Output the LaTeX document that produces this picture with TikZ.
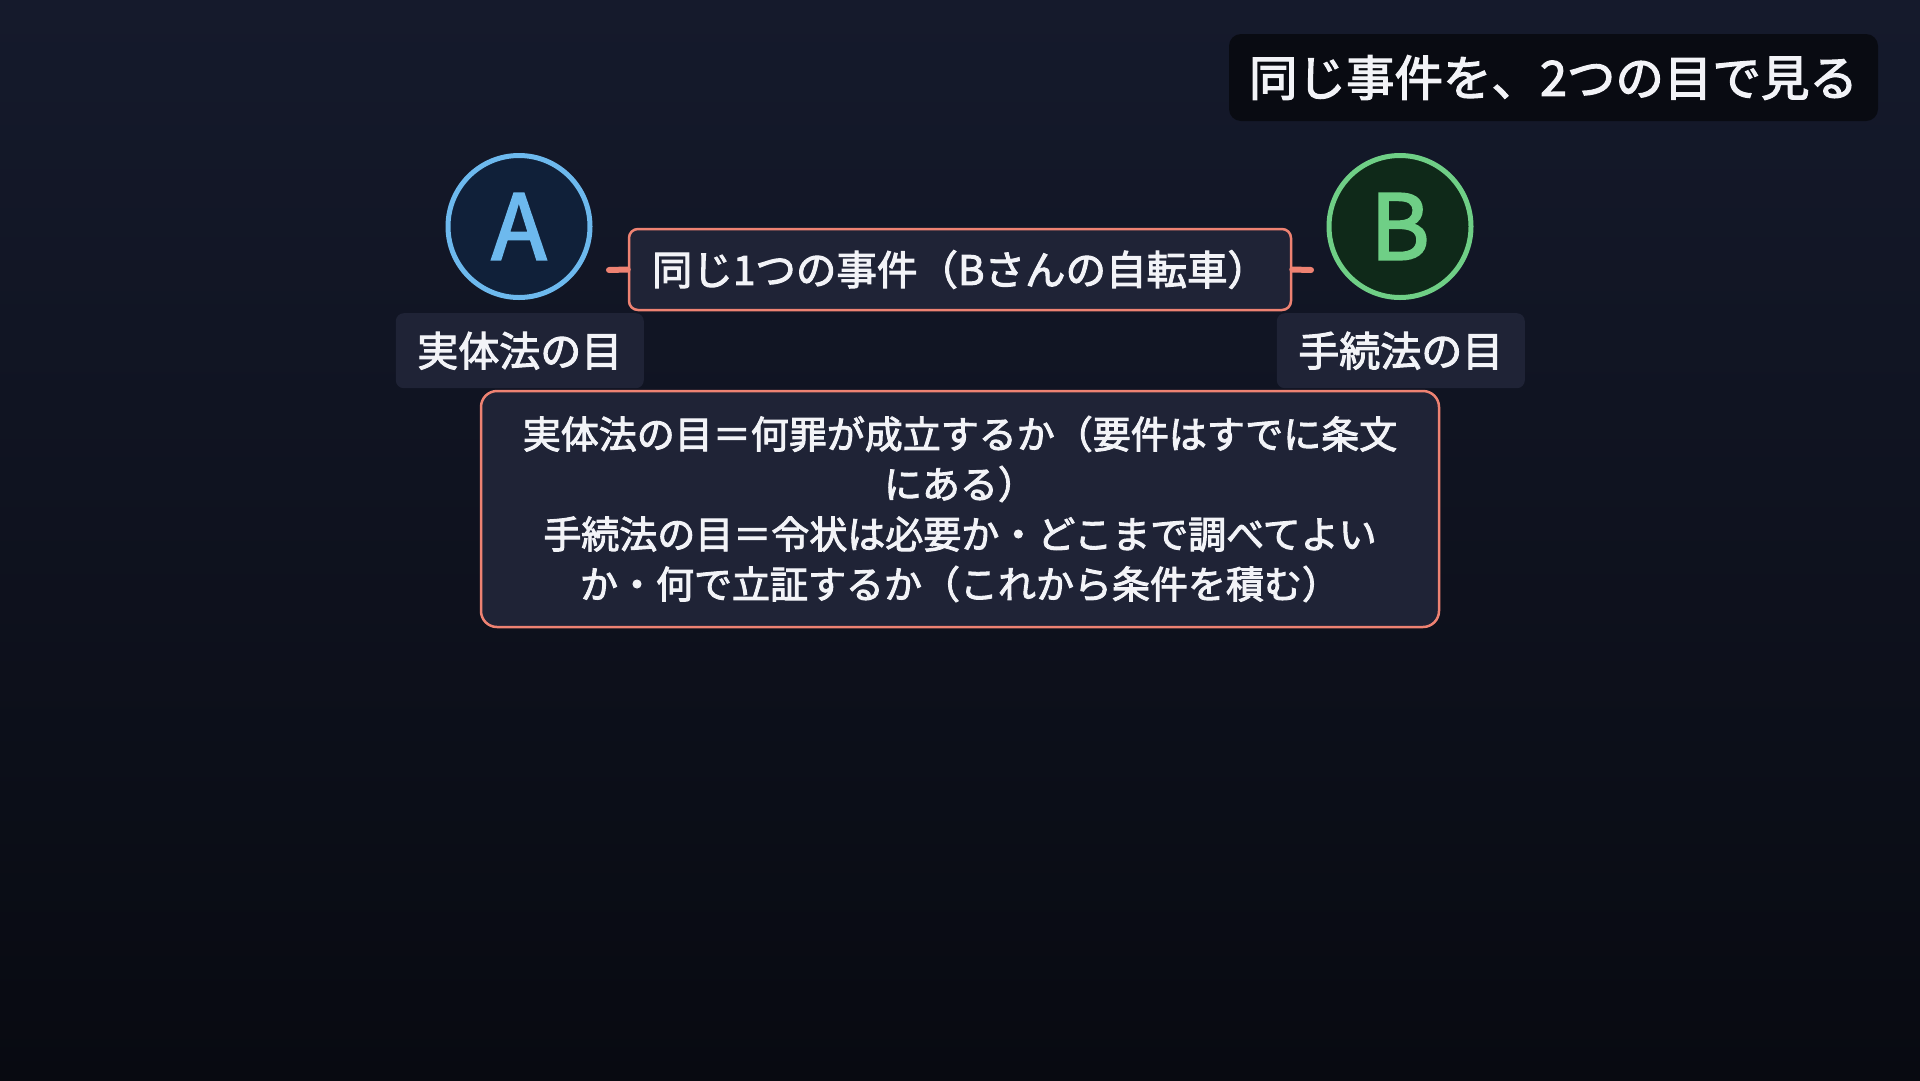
\documentclass[tikz,border=0pt]{standalone}
\usepackage{fontspec}
\setmainfont{Noto Sans CJK JP}[FakeBold=2.5]
\usetikzlibrary{arrows.meta}
\definecolor{bgtop}{HTML}{151A2C}
\definecolor{bgbot}{HTML}{080A11}
\definecolor{panel}{HTML}{1F2336}
\definecolor{salmon}{HTML}{EE8272}
\definecolor{titlebg}{HTML}{090B12}
\definecolor{ablue}{HTML}{6DB9EE}
\definecolor{afill}{HTML}{102039}
\definecolor{bgreen}{HTML}{6FCF86}
\definecolor{bfill}{HTML}{0F2919}
\definecolor{txt}{HTML}{F2F3F7}
\tikzset{
  panelbox/.style={draw=salmon, line width=2.5pt, fill=panel, rounded corners=9pt, text=txt, inner sep=0pt},
  labelbox/.style={fill=panel, rounded corners=8pt, text=txt, inner sep=0pt, minimum width=248pt, minimum height=75pt, font=\fontsize{41}{48}\selectfont},
  circA/.style={circle, draw=ablue, line width=5pt, fill=afill, minimum size=142pt, inner sep=0pt, text=ablue, font=\fontsize{90}{92}\selectfont},
  circB/.style={circle, draw=bgreen, line width=5pt, fill=bfill, minimum size=142pt, inner sep=0pt, text=bgreen, font=\fontsize{90}{92}\selectfont},
  stub/.style={draw=salmon, line width=6pt, line cap=round},
}
\begin{document}
\begin{tikzpicture}[x=1pt,y=-1pt]
\useasboundingbox (0,0) rectangle (1920,1080);
\shade[top color=bgtop, bottom color=bgbot] (0,0) rectangle (1920,1080);
% title
\node[fill=titlebg, rounded corners=12pt, text=txt, minimum width=649pt, minimum height=87pt, inner sep=0pt, font=\fontsize{48.5}{52}\selectfont] (title) at (1553.5,77.5) {同じ事件を、2つの目で見る};
% circles
\node[circA] (A) at (519,226.5) {A};
\node[circB] (B) at (1400,226.5) {B};
% middle box
\node[panelbox, minimum width=662pt, minimum height=81pt, font=\fontsize{40.5}{44}\selectfont] (mid) at (960,269.5) {同じ1つの事件（Bさんの自転車）};
\coordinate (la) at (609,270);
\coordinate (lb) at (1311,270);
\draw[stub] (mid.west) -- (la);
\draw[stub] (mid.east) -- (lb);
% labels
\node[labelbox] (LA) at (519.8,350.7) {実体法の目};
\node[labelbox] (LB) at (1400.8,350.7) {手続法の目};
% big box
\node[panelbox, rounded corners=16pt, minimum width=958pt, minimum height=236pt, align=center, font=\fontsize{38}{50}\selectfont] (big) at (960,509) {実体法の目＝何罪が成立するか（要件はすでに条文\\にある）\\手続法の目＝令状は必要か・どこまで調べてよい\\か・何で立証するか（これから条件を積む）};
\end{tikzpicture}
\end{document}
